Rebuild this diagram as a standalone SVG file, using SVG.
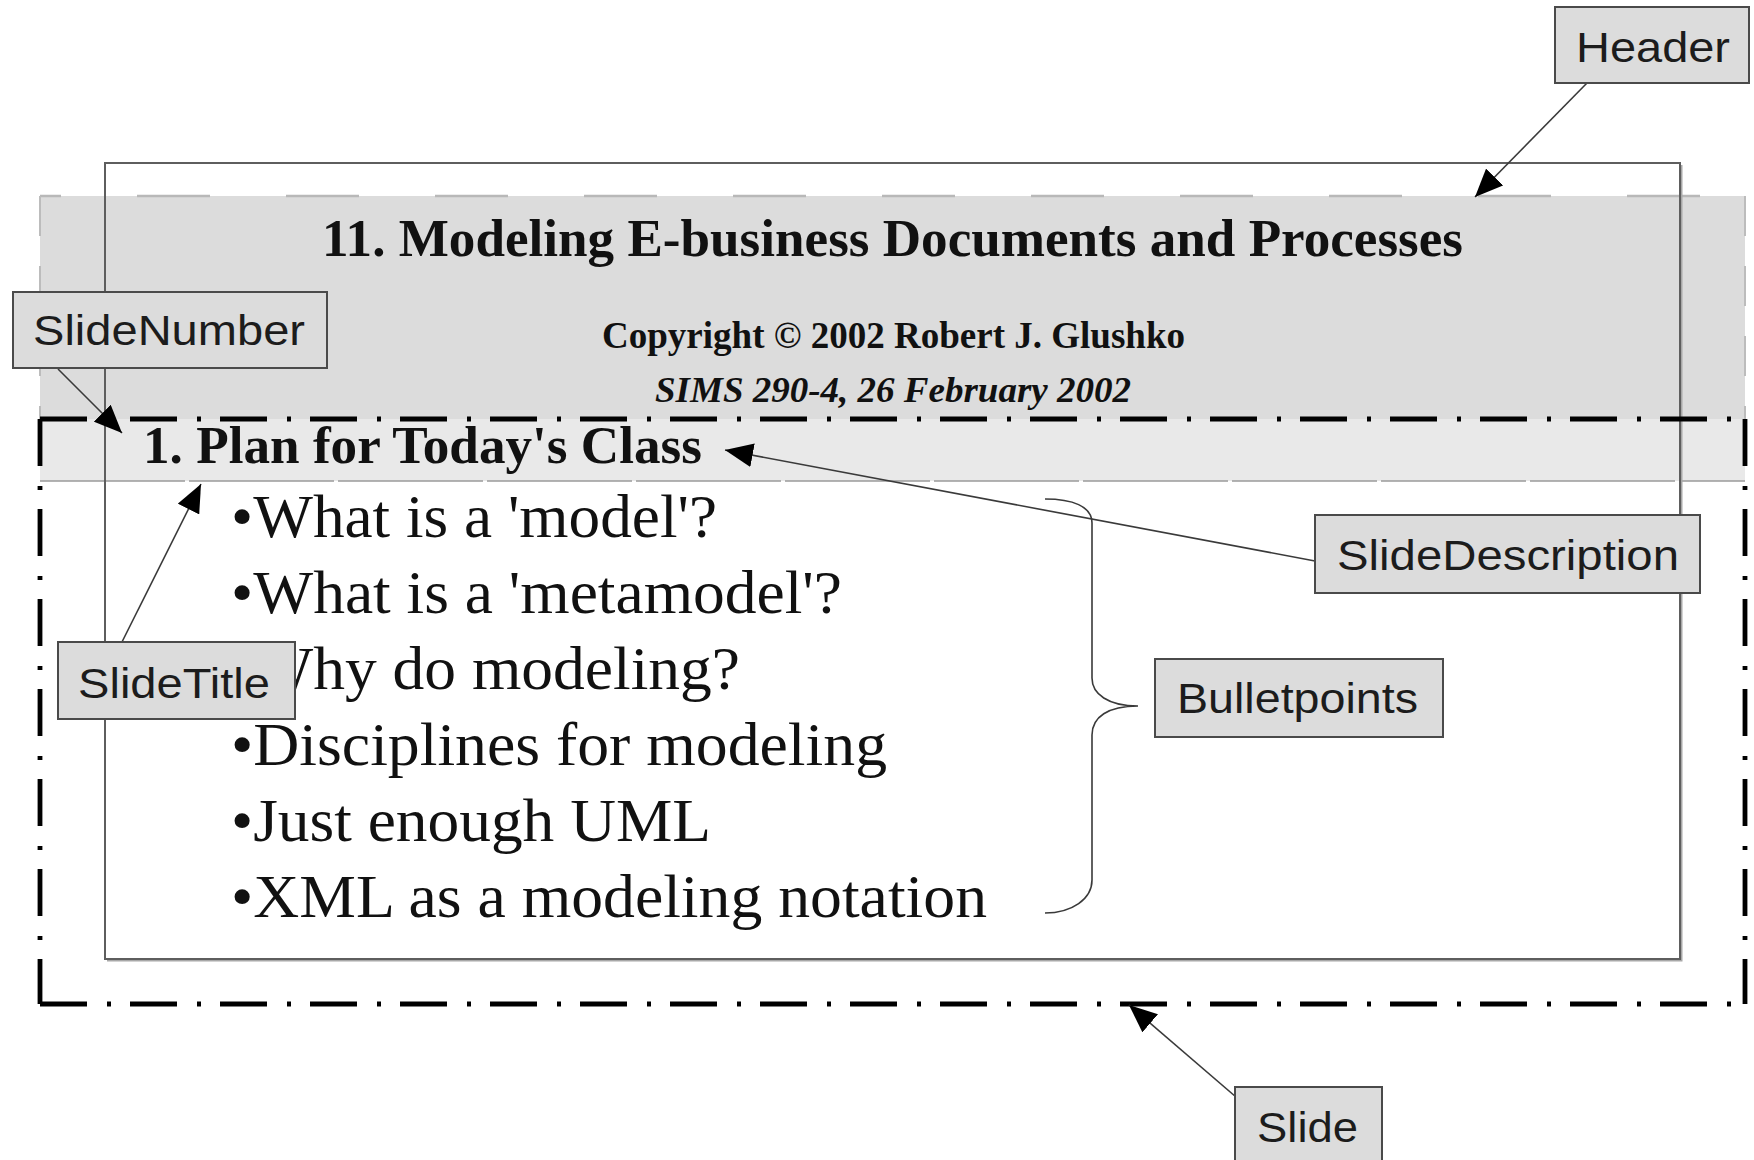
<svg xmlns="http://www.w3.org/2000/svg" width="1754" height="1160" viewBox="0 0 1754 1160">
  <style>
    .serif { font-family: "Liberation Serif", "Times New Roman", serif; fill: #111; }
    .sans { font-family: "Liberation Sans", Arial, sans-serif; font-size: 42px; fill: #1c1c1c; }
    .box { fill: #dcdcdc; stroke: #4a4a4a; stroke-width: 2; }
    .conn { fill: none; stroke: #3a3a3a; stroke-width: 1.6; }
    .dashdot { fill: none; stroke: #000; stroke-width: 4.8; stroke-dasharray: 47 20 4 19; }
    .bullet { font-size: 62px; }
  </style>
  <defs>
    <marker id="arrow" viewBox="0 0 28 24" refX="28" refY="12" markerWidth="28" markerHeight="24" markerUnits="userSpaceOnUse" orient="auto">
      <path d="M0,0 L28,12 L0,24 Z" fill="#000"/>
    </marker>
  </defs>
  <rect x="0" y="0" width="1754" height="1160" fill="#fff"/>

  <!-- Header region -->
  <g id="header-region">
    <rect x="40" y="196" width="1705" height="223" fill="#dcdcdc"/>
    <line x1="40" y1="196" x2="1745" y2="196" stroke="#b8b8b8" stroke-width="2.5" stroke-dasharray="73 76" stroke-dashoffset="52"/>
    <line x1="40" y1="196" x2="40" y2="419" stroke="#bcbcbc" stroke-width="2" stroke-dasharray="40 30"/>
    <line x1="1745" y1="196" x2="1745" y2="419" stroke="#bcbcbc" stroke-width="2" stroke-dasharray="40 30"/>
    <text class="serif" x="322" y="256" font-size="53" font-weight="bold" textLength="1141" lengthAdjust="spacingAndGlyphs">11. Modeling E-business Documents and Processes</text>
    <text class="serif" x="602" y="348" font-size="37" font-weight="bold" textLength="583" lengthAdjust="spacingAndGlyphs">Copyright © 2002 Robert J. Glushko</text>
    <text class="serif" x="655" y="402" font-size="35" font-weight="bold" font-style="italic" textLength="476" lengthAdjust="spacingAndGlyphs">SIMS 290-4, 26 February 2002</text>
  </g>

  <!-- Slide title band -->
  <g id="slide-title-band">
    <rect x="40" y="419" width="1705" height="62" fill="#e9e9e9"/>
    <line x1="40" y1="481" x2="1745" y2="481" stroke="#9a9a9a" stroke-width="1.5" stroke-dasharray="145 4"/>
    <text class="serif" x="143" y="463" font-size="53" font-weight="bold" textLength="559" lengthAdjust="spacingAndGlyphs">1. Plan for Today's Class</text>
  </g>

  <!-- Bulletpoints text -->
  <g id="bullet-text" class="serif bullet">
    <text x="231" y="537" textLength="486" lengthAdjust="spacingAndGlyphs">•What is a 'model'?</text>
    <text x="231" y="613" textLength="611" lengthAdjust="spacingAndGlyphs">•What is a 'metamodel'?</text>
    <text x="231" y="689" textLength="509" lengthAdjust="spacingAndGlyphs">•Why do modeling?</text>
    <text x="231" y="765" textLength="656" lengthAdjust="spacingAndGlyphs">•Disciplines for modeling</text>
    <text x="231" y="841" textLength="480" lengthAdjust="spacingAndGlyphs">•Just enough UML</text>
    <text x="231" y="917" textLength="756" lengthAdjust="spacingAndGlyphs">•XML as a modeling notation</text>
  </g>

  <!-- Inner slide frame -->
  <g id="slide-frame">
    <polyline points="1681,165 1681,960 107,960" fill="none" stroke="#a8a8a8" stroke-width="3"/>
    <rect x="105" y="163" width="1575" height="796" fill="none" stroke="#5e5e5e" stroke-width="2"/>
  </g>

  <!-- Slide dash-dot boundary -->
  <g id="slide-boundary">
    <line class="dashdot" x1="40" y1="419" x2="1745" y2="419"/>
    <line class="dashdot" x1="40" y1="419" x2="40" y2="1004"/>
    <line class="dashdot" x1="1745" y1="419" x2="1745" y2="1004"/>
    <line class="dashdot" x1="40" y1="1004" x2="1745" y2="1004"/>
  </g>

  <!-- Connectors -->
  <g id="connectors">
    <path class="conn" d="M1045,499 C1072,499 1092,506 1092,523 L1092,678 C1092,694 1108,706 1138,706 C1108,706 1092,717 1092,735 L1092,880 C1092,899 1072,913 1045,913" stroke="#505050" stroke-width="2"/>
    <line class="conn" x1="1587" y1="83" x2="1475" y2="197" marker-end="url(#arrow)"/>
    <line class="conn" x1="58" y1="369" x2="122" y2="433" marker-end="url(#arrow)"/>
    <line class="conn" x1="122" y1="642" x2="201" y2="484" marker-end="url(#arrow)"/>
    <line class="conn" x1="1315" y1="561" x2="725" y2="450" marker-end="url(#arrow)"/>
    <line class="conn" x1="1236" y1="1097" x2="1129" y2="1005" marker-end="url(#arrow)"/>
  </g>

  <!-- Callout nodes -->
  <g id="node-header">
    <rect class="box" x="1555" y="7" width="194" height="76"/>
    <text class="sans" x="1576" y="62" textLength="154" lengthAdjust="spacingAndGlyphs">Header</text>
  </g>
  <g id="node-slidenumber">
    <rect class="box" x="13" y="292" width="314" height="76"/>
    <text class="sans" x="33" y="345" textLength="272" lengthAdjust="spacingAndGlyphs">SlideNumber</text>
  </g>
  <g id="node-slidetitle">
    <rect class="box" x="58" y="642" width="237" height="77"/>
    <text class="sans" x="78" y="698" textLength="192" lengthAdjust="spacingAndGlyphs">SlideTitle</text>
  </g>
  <g id="node-slidedescription">
    <rect class="box" x="1315" y="515" width="385" height="78"/>
    <text class="sans" x="1337" y="570" textLength="342" lengthAdjust="spacingAndGlyphs">SlideDescription</text>
  </g>
  <g id="node-bulletpoints">
    <rect class="box" x="1155" y="659" width="288" height="78"/>
    <text class="sans" x="1177" y="713" textLength="241" lengthAdjust="spacingAndGlyphs">Bulletpoints</text>
  </g>
  <g id="node-slide">
    <rect class="box" x="1235" y="1087" width="147" height="90"/>
    <text class="sans" x="1257" y="1142" textLength="101" lengthAdjust="spacingAndGlyphs">Slide</text>
  </g>
</svg>
